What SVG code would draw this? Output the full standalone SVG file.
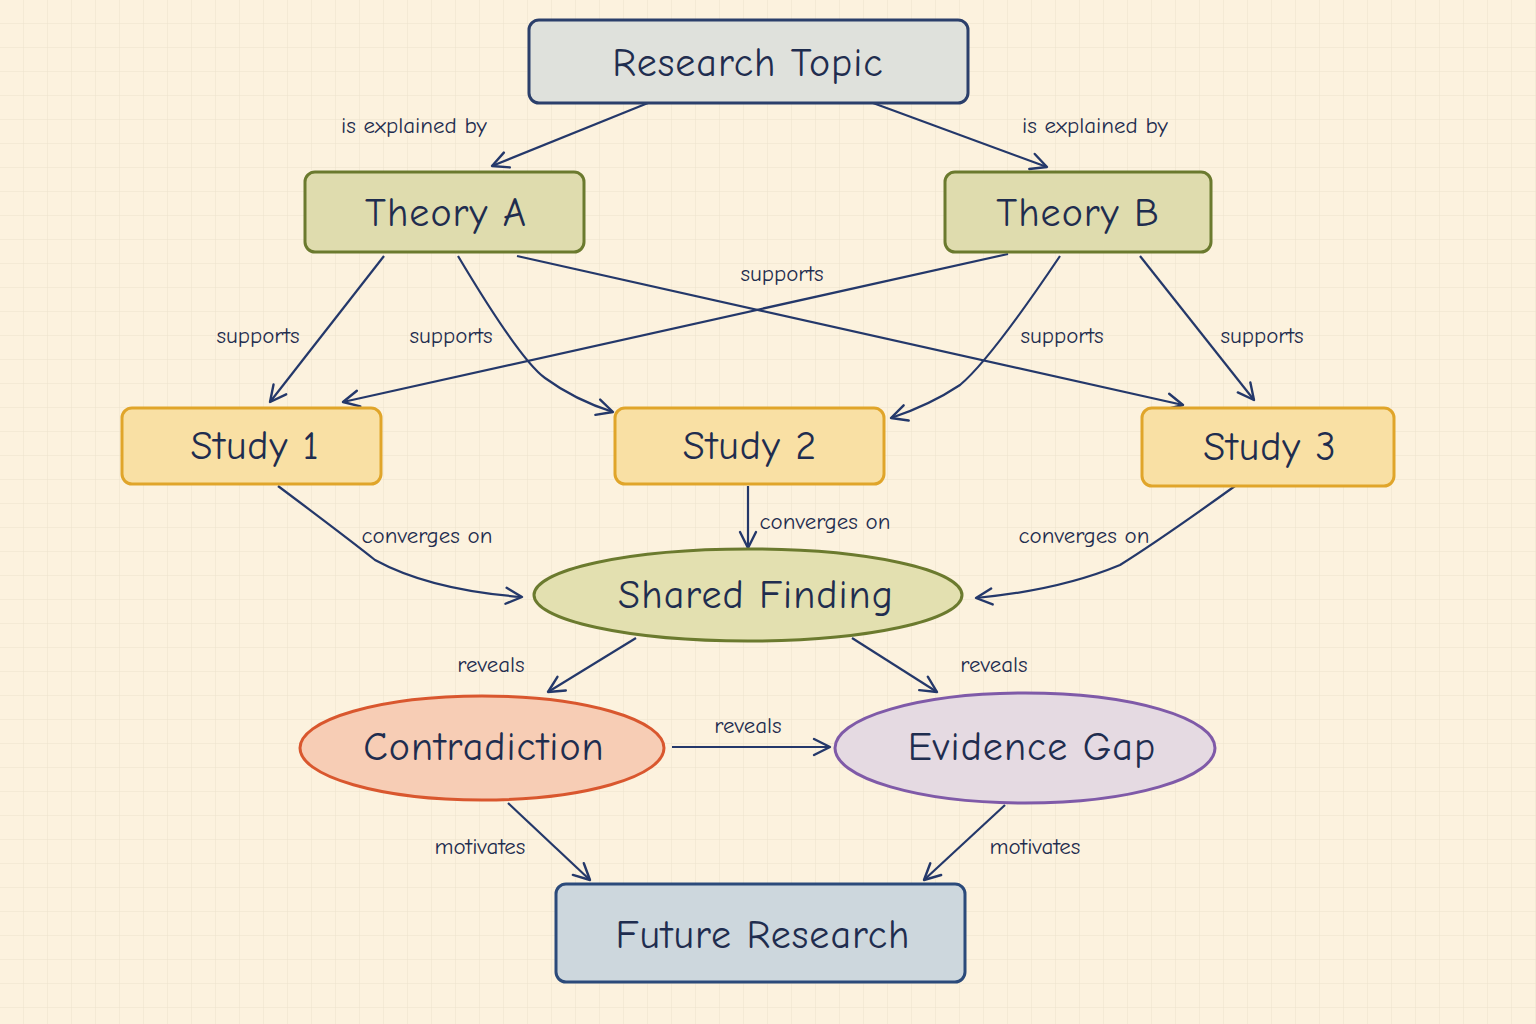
<svg xmlns="http://www.w3.org/2000/svg" width="1536" height="1024" viewBox="0 0 1536 1024">
<defs>
<pattern id="grid" width="24" height="24" patternUnits="userSpaceOnUse"><path d="M24 0V24H0" fill="none" stroke="#ece2cc" stroke-width="1"/></pattern>
<marker id="ah" viewBox="0 0 20 20" refX="18" refY="10" markerWidth="20" markerHeight="20" markerUnits="userSpaceOnUse" orient="auto"><path d="M2 2L18 10L2 18" fill="none" stroke="#24386a" stroke-width="2.4" stroke-linecap="round" stroke-linejoin="round"/></marker>
<style>
.c{fill:none;stroke:#24386a;stroke-width:2.2;marker-end:url(#ah)}
.l{font-family:"Comic Neue","Liberation Sans",sans-serif;font-size:23px;fill:#1f2d4f;text-anchor:middle}
.t{font-family:"Comic Neue","Liberation Sans",sans-serif;font-size:40px;fill:#1f2d4f;text-anchor:middle;dominant-baseline:central;letter-spacing:1px}
.n{stroke-width:3}
</style>
</defs>
<rect width="1536" height="1024" fill="#fcf2de"/>
<rect width="1536" height="1024" fill="url(#grid)"/>
<g id="connectors">
<path class="c" d="M648 103L492 166"/>
<path class="c" d="M873 103L1047 167"/>
<path class="c" d="M384 256L270 402"/>
<path class="c" d="M458 256Q520 360 545 378Q575 400 613 412"/>
<path class="c" d="M517 256L1183 405"/>
<path class="c" d="M1008 254L343 402"/>
<path class="c" d="M1060 256Q990 360 960 385Q930 405 891 418"/>
<path class="c" d="M1140 256L1254 400"/>
<path class="c" d="M278 486Q350 540 375 560Q430 590 522 597"/>
<path class="c" d="M748 486L748 548"/>
<path class="c" d="M1235 486Q1160 540 1120 565Q1060 590 976 598"/>
<path class="c" d="M636 638L548 692"/>
<path class="c" d="M852 638L937 692"/>
<path class="c" d="M672 747L830 747"/>
<path class="c" d="M508 803L590 880"/>
<path class="c" d="M1005 805L924 880"/>
<text class="l" x="414" y="133">is explained by</text>
<text class="l" x="1095" y="133">is explained by</text>
<text class="l" x="258" y="343">supports</text>
<text class="l" x="451" y="343">supports</text>
<text class="l" x="782" y="281">supports</text>
<text class="l" x="1062" y="343">supports</text>
<text class="l" x="1262" y="343">supports</text>
<text class="l" x="427" y="543">converges on</text>
<text class="l" x="825" y="529">converges on</text>
<text class="l" x="1084" y="543">converges on</text>
<text class="l" x="491" y="672">reveals</text>
<text class="l" x="994" y="672">reveals</text>
<text class="l" x="748" y="733">reveals</text>
<text class="l" x="480" y="854">motivates</text>
<text class="l" x="1035" y="854">motivates</text>
</g>
<g id="research-topic"><rect class="n" x="529" y="20" width="439" height="83" rx="10" fill="#dfe1dc" stroke="#2b3f6b"/><text class="t" x="748" y="63" font-size="44">Research Topic</text></g>
<g id="theory-a"><rect class="n" x="305" y="172" width="279" height="80" rx="10" fill="#dfdcae" stroke="#6b7a2e"/><text class="t" x="446" y="213">Theory A</text></g>
<g id="theory-b"><rect class="n" x="945" y="172" width="266" height="80" rx="10" fill="#dfdcae" stroke="#6b7a2e"/><text class="t" x="1078" y="213">Theory B</text></g>
<g id="study-1"><rect class="n" x="122" y="408" width="259" height="76" rx="10" fill="#f9e0a4" stroke="#e0a52a"/><text class="t" x="255" y="446">Study 1</text></g>
<g id="study-2"><rect class="n" x="615" y="408" width="269" height="76" rx="10" fill="#f9e0a4" stroke="#e0a52a"/><text class="t" x="750" y="446">Study 2</text></g>
<g id="study-3"><rect class="n" x="1142" y="408" width="252" height="78" rx="10" fill="#f9e0a4" stroke="#e0a52a"/><text class="t" x="1270" y="447">Study 3</text></g>
<g id="shared-finding"><ellipse class="n" cx="748" cy="595" rx="214" ry="46" fill="#e3e0b0" stroke="#6b7a2e"/><text class="t" x="756" y="595">Shared Finding</text></g>
<g id="contradiction"><ellipse class="n" cx="482" cy="748" rx="182" ry="52" fill="#f7cdb5" stroke="#d9572e"/><text class="t" x="484" y="747">Contradiction</text></g>
<g id="evidence-gap"><ellipse class="n" cx="1025" cy="748" rx="190" ry="55" fill="#e5dae2" stroke="#7f5aa8"/><text class="t" x="1032" y="747">Evidence Gap</text></g>
<g id="future-research"><rect class="n" x="556" y="884" width="409" height="98" rx="10" fill="#cdd7dd" stroke="#2b4a7a"/><text class="t" x="763" y="935">Future Research</text></g>
</svg>
